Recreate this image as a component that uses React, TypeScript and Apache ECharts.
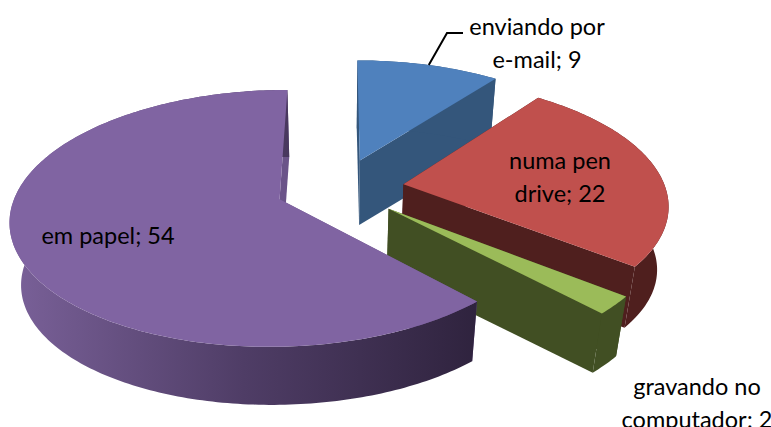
import React, { useEffect, useRef } from "react";
import * as echarts from "echarts";

const categories = ["enviando por\ne-mail", "numa pen\ndrive", "gravando no\ncomputador", "em papel"];
const values = [9, 22, 2, 54];
const topColors = ["#4f81bd", "#c0504d", "#9bbb59", "#8064a2"];
const faceColors = ["#34567b", "#4f1f1e", "#414f23", "#6b5489"];
const rimColors = ["#34567b", "#4f1f1e", "#414f23", "#30243f"];
const labelPositions = [[537, 42], [560, 176], [697, 402], [108, 235]];

const CX = 340, CY = 188, A = 122.3, B = 262, K = 0.147, EXPLODE = 0.245, DEPTH = 63.6, SHRINK = 0.035;

function project(u: number, v: number, z: number): number[] {
  const w = 1 / (1 - K * v);
  const s = 1 - z * SHRINK;
  return [CX + s * B * u * w, CY + s * A * v * w + z * DEPTH];
}

function renderItem(params: any, api: any) {
  const i = params.dataIndex;
  const total = values.reduce((a, b) => a + b, 0);
  const before = values.slice(0, i).reduce((a, b) => a + b, 0);
  const val = api.value(0);
  const a0 = (before / total) * Math.PI * 2;
  const a1 = ((before + val) / total) * Math.PI * 2;
  const mid = (a0 + a1) / 2;
  const ox = EXPLODE * Math.sin(mid);
  const oy = -EXPLODE * Math.cos(mid);
  const steps = Math.max(4, Math.ceil((a1 - a0) / (Math.PI / 180)));
  const arc = (z: number) => {
    const pts: number[][] = [];
    for (let j = 0; j <= steps; j++) {
      const t = a0 + ((a1 - a0) * j) / steps;
      pts.push(project(ox + Math.sin(t), oy - Math.cos(t), z));
    }
    return pts;
  };
  const top = arc(0);
  const bottom = arc(1);
  const apexTop = project(ox, oy, 0);
  const apexBottom = project(ox, oy, 1);
  const polygon = (points: number[][], fill: any) => ({
    type: "polygon",
    shape: { points },
    style: { fill, stroke: null },
  });
  const rimFill =
    i === 3
      ? new echarts.graphic.LinearGradient(0, 0, 1, 0, [
          { offset: 0, color: "#7a6199" },
          { offset: 0.5, color: "#4f3d66" },
          { offset: 1, color: "#2f233e" },
        ])
      : rimColors[i];
  const children: any[] = [
    polygon([apexTop, top[0], bottom[0], apexBottom], faceColors[i]),
    polygon([apexTop, top[steps], bottom[steps], apexBottom], faceColors[i]),
    polygon([...top, ...bottom.slice().reverse()], rimFill),
    polygon([apexTop, ...top], topColors[i]),
    {
      type: "text",
      z2: 10,
      style: {
        x: labelPositions[i][0],
        y: labelPositions[i][1],
        text: `${categories[i]}; ${val}`,
        fill: "#000",
        font: '23.5px Lato, "Open Sans", sans-serif',
        lineHeight: 33,
        align: i === 3 ? "center" : "center",
        verticalAlign: "middle",
      },
    },
  ];
  if (i === 0) {
    const anchor = Math.round(steps * 0.5);
    const p = top[anchor];
    children.push({
      type: "polyline",
      z2: 10,
      shape: { points: [p, [447, 33], [463, 33]] },
      style: { stroke: "#000", lineWidth: 2, fill: null },
    });
  }
  return { type: "group", children };
}

export default function App() {
  const ref = useRef<HTMLDivElement>(null);
  useEffect(() => {
    const chart = echarts.init(ref.current!, undefined, { renderer: "svg" });
    chart.setOption({
      animation: false,
      backgroundColor: "#ffffff",
      series: [
        {
          type: "custom",
          coordinateSystem: "none",
          data: values.map((v) => [v]),
          renderItem,
        },
      ],
    });
    return () => chart.dispose();
  }, []);
  return <div ref={ref} style={{ position: "absolute", left: 0, top: 0, width: 771, height: 427 }} />;
}
